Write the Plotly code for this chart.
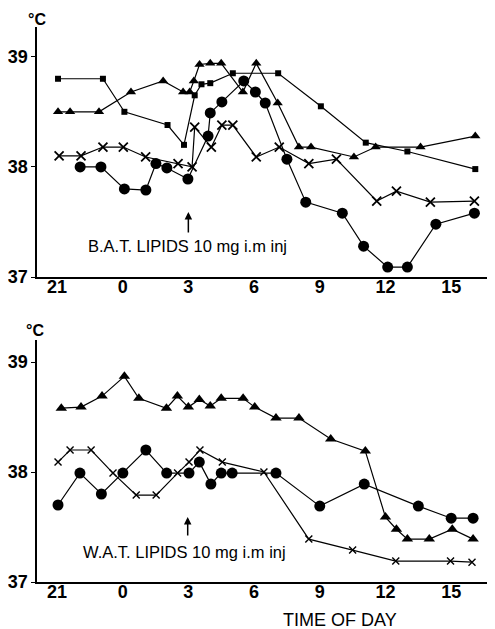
import plotly.graph_objects as go
from plotly.subplots import make_subplots

# ---- Tick labels (hours; 21 h of previous day = -3) ----
tick_vals = [-3, 0, 3, 6, 9, 12, 15]
tick_text = ["21", "0", "3", "6", "9", "12", "15"]
y_ticks = [37, 38, 39]

# ---- Top panel: B.A.T. lipids ----
top_sq_x = [-2.95, -0.9, 0.08, 2.05, 2.8, 3.29, 3.6, 4.0, 5.03, 7.1, 9.05, 11.1, 13.0, 16.1]
top_sq_y = [38.8, 38.8, 38.5, 38.38, 38.2, 38.65, 38.75, 38.76, 38.85, 38.85, 38.55, 38.22, 38.14, 37.98]

top_tri_x = [-2.95, -2.4, -1.08, 0.38, 1.85, 2.76, 3.06, 3.25, 3.51, 4.0, 4.5, 5.49, 6.1, 7.08, 8.05, 8.6, 10.56, 11.55, 13.6, 16.1]
top_tri_y = [38.5, 38.5, 38.5, 38.68, 38.78, 38.68, 38.68, 38.78, 38.93, 38.94, 38.94, 38.68, 38.94, 38.58, 38.18, 38.18, 38.09, 38.18, 38.18, 38.28]

top_x_x = [-2.9, -1.9, -0.9, 0.03, 1.05, 2.53, 3.17, 3.29, 4.05, 4.53, 5.03, 6.1, 7.15, 8.5, 9.76, 11.6, 12.5, 14.05, 16.06]
top_x_y = [38.1, 38.1, 38.18, 38.18, 38.09, 38.03, 38.0, 38.36, 38.18, 38.38, 38.38, 38.09, 38.18, 38.03, 38.07, 37.69, 37.78, 37.68, 37.69]

top_ci_x = [-1.94, -0.99, 0.08, 1.06, 1.52, 2.02, 2.98, 3.9, 4.0, 4.53, 5.53, 6.06, 6.51, 7.5, 8.36, 10.03, 11.0, 12.1, 13.0, 14.3, 16.06]
top_ci_y = [38.0, 38.0, 37.8, 37.79, 38.03, 37.99, 37.89, 38.28, 38.49, 38.59, 38.78, 38.68, 38.58, 38.07, 37.68, 37.58, 37.28, 37.09, 37.09, 37.48, 37.58]

# ---- Bottom panel: W.A.T. lipids ----
bot_tri_x = [-2.8, -1.9, -0.94, 0.08, 0.74, 2.0, 2.5, 3.0, 3.5, 4.0, 4.5, 5.5, 6.03, 7.0, 8.05, 9.5, 11.08, 12.0, 12.5, 13.0, 14.0, 15.05, 16.0]
bot_tri_y = [38.58, 38.59, 38.69, 38.87, 38.67, 38.58, 38.69, 38.59, 38.66, 38.6, 38.67, 38.67, 38.59, 38.49, 38.49, 38.3, 38.19, 37.59, 37.48, 37.39, 37.39, 37.48, 37.39]

bot_ci_x = [-2.95, -1.95, -0.97, 0.01, 1.06, 2.01, 3.03, 3.5, 4.03, 4.5, 5.0, 7.0, 9.0, 11.03, 13.5, 15.0, 16.0]
bot_ci_y = [37.7, 37.99, 37.8, 37.99, 38.2, 37.99, 37.99, 38.09, 37.89, 37.99, 37.99, 37.99, 37.69, 37.89, 37.69, 37.58, 37.58]

bot_x_x = [-2.95, -2.4, -1.44, -0.44, 0.62, 1.53, 2.51, 3.03, 3.53, 4.55, 6.45, 8.5, 10.5, 12.47, 14.97, 15.95]
bot_x_y = [38.09, 38.2, 38.2, 37.99, 37.79, 37.79, 37.99, 38.09, 38.2, 38.09, 38.0, 37.39, 37.29, 37.19, 37.19, 37.18]

FONT = "Liberation Sans"
LINE = dict(color="black", width=1.2)

fig = make_subplots(rows=2, cols=1)

def add(x, y, symbol, size, row, mline=0):
    fig.add_trace(go.Scatter(
        x=x, y=y, mode="lines+markers", line=LINE,
        marker=dict(symbol=symbol, size=size, color="black",
                    line=dict(color="black", width=mline)),
        showlegend=False, hoverinfo="skip"), row=row, col=1)

add(top_sq_x, top_sq_y, "square", 6, 1)
add(top_tri_x, top_tri_y, "triangle-up", 9, 1)
add(top_x_x, top_x_y, "x-thin-open", 9, 1, 1.8)
add(top_ci_x, top_ci_y, "circle", 11, 1)

add(bot_tri_x, bot_tri_y, "triangle-up", 10, 2)
add(bot_ci_x, bot_ci_y, "circle", 11, 2)
add(bot_x_x, bot_x_y, "x-thin-open", 7, 2, 1.4)

TICKFONT = dict(family=FONT, size=18, color="black", weight="bold")
xax = dict(range=[-3.91, 17.0], tickvals=tick_vals, ticktext=tick_text,
           showline=True, linecolor="black", linewidth=1.5, ticks="",
           showgrid=False, zeroline=False, ticklabelstandoff=-7,
           tickfont=TICKFONT)
yax = dict(tickvals=y_ticks, showline=True, linecolor="black", linewidth=1.5,
           ticks="outside", ticklen=4, tickcolor="black", showgrid=False,
           zeroline=False, tickfont=TICKFONT)
fig.update_layout(
    width=487, height=621,
    margin=dict(l=27, r=0, t=19, b=47),
    paper_bgcolor="white", plot_bgcolor="white",
    xaxis=dict(domain=[0, 1], **xax),
    xaxis2=dict(domain=[0, 1], **xax),
    yaxis=dict(domain=[0.5495, 1.0], range=[37, 39.27], **yax),
    yaxis2=dict(domain=[0.0, 0.436], range=[37, 39.2], **yax),
)

annots = [
    dict(text="°C", xref="paper", yref="paper", x=0.0, y=1.014,
         xanchor="center", yanchor="middle", showarrow=False,
         font=dict(family=FONT, size=16, color="black", weight="bold")),
    dict(text="°C", xref="paper", yref="paper", x=-0.004, y=0.454,
         xanchor="center", yanchor="middle", showarrow=False,
         font=dict(family=FONT, size=16, color="black", weight="bold")),
    dict(text="TIME OF DAY", xref="paper", yref="paper", x=0.661, y=-0.0685,
         xanchor="center", yanchor="middle", showarrow=False,
         font=dict(family=FONT, size=18, color="black")),
    dict(text="B.A.T. LIPIDS 10 mg i.m inj", xref="x", yref="y", x=2.95, y=37.28,
         showarrow=False, font=dict(family=FONT, size=16.5, color="black")),
    dict(text="W.A.T. LIPIDS 10 mg i.m inj", xref="x2", yref="y2", x=2.82, y=37.27,
         showarrow=False, font=dict(family=FONT, size=16.5, color="black")),
    dict(text="", xref="x", yref="y", x=3.0, y=37.59, ax=0, ay=22,
         showarrow=True, arrowhead=2, arrowsize=1, arrowwidth=1.5, arrowcolor="black"),
    dict(text="", xref="x2", yref="y2", x=2.97, y=37.59, ax=0, ay=20,
         showarrow=True, arrowhead=2, arrowsize=1, arrowwidth=1.5, arrowcolor="black"),
]
fig.update_layout(annotations=annots)

fig.write_html("out.html")
